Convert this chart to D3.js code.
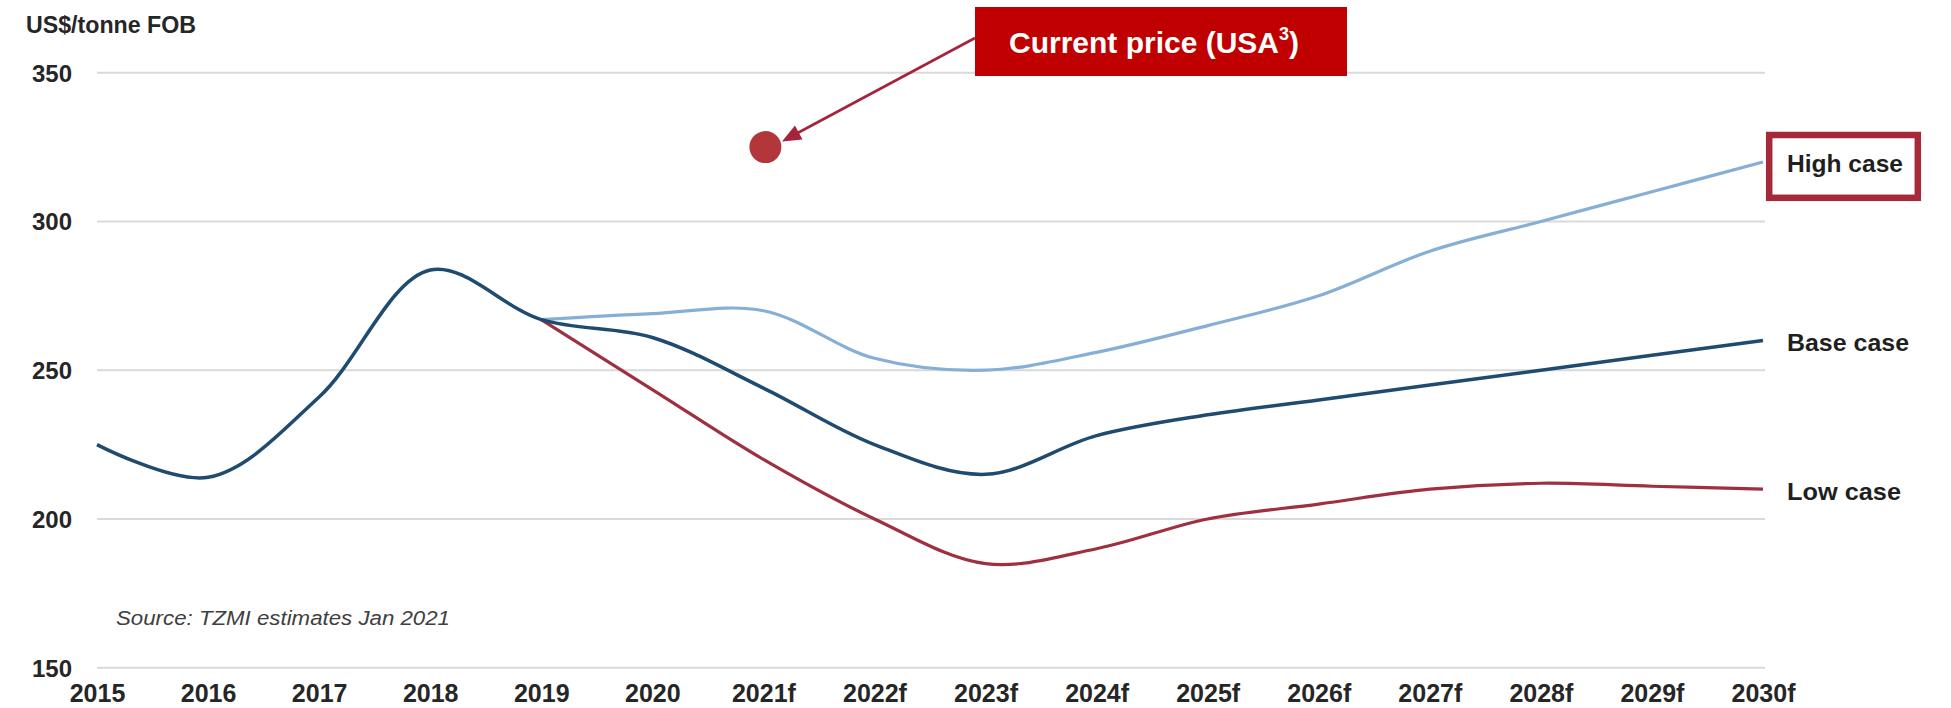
<!DOCTYPE html>
<html>
<head>
<meta charset="utf-8">
<script src="https://cdn.jsdelivr.net/npm/d3@7"></script>
<style>
  html, body { margin: 0; padding: 0; background: #ffffff; }
  svg { display: block; }
  text { font-family: "Liberation Sans", Arial, sans-serif; }
</style>
</head>
<body>
<div id="chart"></div>
<script>
// ---- data ----
const years = ["2015","2016","2017","2018","2019","2020","2021f","2022f","2023f","2024f","2025f","2026f","2027f","2028f","2029f","2030f"];
const baseCase = [225, 214, 241, 283.7, 267, 261, 244, 225, 215, 228, 235, 240, 245, 250, 255, 260];
const highYears = ["2019","2020","2021f","2022f","2023f","2024f","2025f","2026f","2027f","2028f","2029f","2030f"];
const highCase = [267, 269, 270, 254, 250, 256, 265, 275, 290, 300, 310, 320];
const lowCase  = [267, 243.5, 220, 200, 185, 190, 200, 205, 210, 212, 211, 210];
const yTicks = [150, 200, 250, 300, 350];
const currentPrice = { year: "2021f", value: 325 };

const W = 1951, H = 708;
const svg = d3.select("#chart").append("svg").attr("width", W).attr("height", H);

const x = d3.scalePoint().domain(years).range([97, 1763]);
const y = d3.scaleLinear().domain([150, 350]).range([667.7, 72.7]);

// gridlines
svg.append("g").selectAll("line").data(yTicks).join("line")
  .attr("x1", 97).attr("x2", 1765)
  .attr("y1", d => y(d)).attr("y2", d => y(d))
  .attr("stroke", "#d9d9d9").attr("stroke-width", 2);

// y axis labels
const yAxis = d3.axisLeft(y).tickValues(yTicks).tickSize(0).tickPadding(0);
const gy = svg.append("g").attr("transform", "translate(72,0)").call(yAxis);
gy.select(".domain").remove();
gy.selectAll("text").attr("font-size", 24).attr("font-weight", "bold")
  .attr("fill", "#262626").attr("font-family", "'Liberation Sans', Arial, sans-serif")
  .attr("dy", "0.35em").attr("x", 0);

// x axis labels
const xAxis = d3.axisBottom(x).tickSize(0).tickPadding(0);
const gx = svg.append("g").attr("transform", "translate(0,693)").call(xAxis);
gx.select(".domain").remove();
gx.selectAll("text").attr("font-size", 25).attr("font-weight", "bold")
  .attr("fill", "#262626").attr("font-family", "'Liberation Sans', Arial, sans-serif")
  .attr("y", 0).attr("dy", "0.35em");

// unit label
svg.append("text").attr("x", 26).attr("y", 25).attr("dy", "0.35em")
  .attr("font-size", 23).attr("font-weight", "bold").attr("fill", "#262626")
  .attr("textLength", 170).attr("lengthAdjust", "spacingAndGlyphs")
  .text("US$/tonne FOB");

// source
svg.append("text").attr("x", 116).attr("y", 618).attr("dy", "0.35em")
  .attr("font-size", 20).attr("font-style", "italic").attr("fill", "#404040")
  .attr("textLength", 334).attr("lengthAdjust", "spacingAndGlyphs")
  .text("Source: TZMI estimates Jan 2021");

// lines
const line = d3.line().curve(d3.curveCatmullRom.alpha(0.5))
  .x(d => x(d[0])).y(d => y(d[1]));

svg.append("path").datum(highYears.map((yr, i) => [yr, highCase[i]]))
  .attr("d", line).attr("fill", "none").attr("stroke", "#86afd6").attr("stroke-width", 3.2);
svg.append("path").datum(highYears.map((yr, i) => [yr, lowCase[i]]))
  .attr("d", line).attr("fill", "none").attr("stroke", "#9e3040").attr("stroke-width", 3.2);
svg.append("path").datum(years.map((yr, i) => [yr, baseCase[i]]))
  .attr("d", line).attr("fill", "none").attr("stroke", "#1e4b6f").attr("stroke-width", 3.5);

// end labels
const lastH = highCase[highCase.length - 1], lastB = baseCase[baseCase.length - 1], lastL = lowCase[lowCase.length - 1];
svg.append("rect").attr("x", 1769.2).attr("y", 135).attr("width", 148.6).attr("height", 62.8)
  .attr("fill", "none").attr("stroke", "#a62939").attr("stroke-width", 6.5);
const endLabels = [["High case", lastH, 116], ["Base case", lastB, 122], ["Low case", lastL, 114]];
svg.append("g").selectAll("text").data(endLabels).join("text")
  .attr("x", 1787).attr("y", d => y(d[1]) + 2).attr("dy", "0.35em")
  .attr("font-size", 24).attr("font-weight", "bold").attr("fill", "#1f1f1f")
  .attr("textLength", d => d[2]).attr("lengthAdjust", "spacingAndGlyphs")
  .text(d => d[0]);

// current price callout
const cx = x(currentPrice.year) + 2, cy = y(currentPrice.value);
svg.append("circle").attr("cx", cx).attr("cy", cy).attr("r", 16).attr("fill", "#b3373a");

const tipX = 782, tipY = 141.5;
svg.append("line").attr("x1", 975).attr("y1", 38).attr("x2", 792).attr("y2", 136)
  .attr("stroke", "#a4243b").attr("stroke-width", 2.6);
// arrowhead
const ang = Math.atan2(141.5 - 38, 782 - 975);
const hl = 19, hw = 8;
const bx = tipX - hl * Math.cos(ang), by = tipY - hl * Math.sin(ang);
const px = -Math.sin(ang), py = Math.cos(ang);
svg.append("path")
  .attr("d", `M${tipX},${tipY}L${bx + hw * px},${by + hw * py}L${bx - hw * px},${by - hw * py}Z`)
  .attr("fill", "#a4243b");

svg.append("rect").attr("x", 975).attr("y", 7).attr("width", 372).attr("height", 69).attr("fill", "#c00000");
const t = svg.append("text").attr("x", 1154).attr("y", 42).attr("dy", "0.35em")
  .attr("text-anchor", "middle").attr("font-size", 30).attr("font-weight", "bold").attr("fill", "#ffffff");
t.append("tspan").text("Current price (USA");
t.append("tspan").attr("font-size", 18).attr("dy", "-0.7em").text("3");
t.append("tspan").attr("dy", "0.42em").text(")");
</script>
</body>
</html>
